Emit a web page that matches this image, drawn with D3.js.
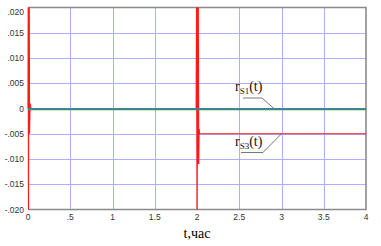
<!DOCTYPE html>
<html>
<head>
<meta charset="utf-8">
<script src="https://cdn.jsdelivr.net/npm/d3@7"></script>
<style>
  body { margin: 0; background: #fff; }
  svg { display: block; }
</style>
</head>
<body>
<script>
// Tick values and labels
const xTicks = [0, 0.5, 1, 1.5, 2, 2.5, 3, 3.5, 4];
const xTickLabels = ["0", ".5", "1", "1.5", "2", "2.5", "3", "3.5", "4"];
const yTicks = [0.02, 0.015, 0.01, 0.005, 0, -0.005, -0.01, -0.015, -0.02];
const yTickLabels = [".020", ".015", ".010", ".005", "0", "-.005", "-.010", "-.015", "-.020"];

// Series
const zeroT = [0, 4];
const zeroV = [0, 0];
const rS1T = [0, 4];
const rS1V = [-0.0002, -0.0002];
const rS3T = [0, 0.003, 0.006, 0.009, 0.012, 0.015, 0.018, 0.024, 0.035,
              1.99, 1.995, 2.0, 2.005, 2.01, 2.015, 2.02, 2.025, 2.03, 4];
const rS3V = [0, 0.0215, -0.0205, 0.021, -0.005, 0.0205, -0.005, 0.001, 0,
              0, 0.021, -0.021, 0.021, -0.011, 0.021, -0.011, -0.004, -0.005, -0.005];

const width = 381, height = 246;
const x = d3.scaleLinear().domain([0, 4]).range([28, 366]);
const y = d3.scaleLinear().domain([-0.02, 0.02]).range([209.5, 7.5]);

const svg = d3.select("body").append("svg")
    .attr("width", width)
    .attr("height", height);

svg.append("defs").append("clipPath").attr("id", "plot")
  .append("rect")
    .attr("x", x(0) - 2).attr("y", y(0.02))
    .attr("width", x(4) - x(0) + 2).attr("height", y(-0.02) - y(0.02));

// Grid
const grid = svg.append("g").attr("stroke", "#aab0ff").attr("stroke-width", 1);
grid.selectAll("line.v").data(xTicks.slice(1, -1)).join("line")
    .attr("x1", d => Math.round(x(d)) + 0.5).attr("x2", d => Math.round(x(d)) + 0.5)
    .attr("y1", y(0.02)).attr("y2", y(-0.02));
grid.selectAll("line.h").data(yTicks.slice(1, -1)).join("line")
    .attr("x1", x(0)).attr("x2", x(4))
    .attr("y1", d => Math.round(y(d)) + 0.5).attr("y2", d => Math.round(y(d)) + 0.5);

// Frame
svg.append("path")
    .attr("d", `M${x(0)},${y(0.02)}H${x(4)}V${y(-0.02)}H${x(0)}`)
    .attr("fill", "none").attr("stroke", "#8a8a8a").attr("stroke-width", 1.6);

const line = d3.line().x(d => x(d[0])).y(d => y(d[1]));
const plot = svg.append("g").attr("clip-path", "url(#plot)").attr("fill", "none");

plot.append("path")
    .attr("d", line(d3.zip(rS3T, rS3V)))
    .attr("stroke", "#ff1a1a").attr("stroke-width", 1.2);
plot.append("path")
    .attr("d", line(d3.zip(zeroT, zeroV)))
    .attr("stroke", "#6060ff").attr("stroke-width", 1);
plot.append("path")
    .attr("d", line(d3.zip(rS1T, rS1V)))
    .attr("stroke", "#2e9a46").attr("stroke-width", 1.3);

// Tick labels
const tickFont = "Arial, 'Liberation Sans', sans-serif";
svg.append("g").selectAll("text").data(yTicks).join("text")
    .attr("x", 24)
    .attr("y", (d, i) => y(d) + (i === 0 ? 7 : 3))
    .attr("text-anchor", "end")
    .attr("font-family", tickFont).attr("font-size", 8.5).attr("fill", "#333")
    .text((d, i) => yTickLabels[i]);
svg.append("g").selectAll("text").data(xTicks).join("text")
    .attr("x", d => x(d))
    .attr("y", 220)
    .attr("text-anchor", "middle")
    .attr("font-family", tickFont).attr("font-size", 8.5).attr("fill", "#333")
    .text((d, i) => xTickLabels[i]);

svg.append("text")
    .attr("x", x(2)).attr("y", 238)
    .attr("text-anchor", "middle")
    .attr("font-family", "'Liberation Serif', 'DejaVu Serif', serif")
    .attr("font-size", 14)
    .text("t,час");

// Curve labels with leader lines
function label(name, tx, ty, ux0, ux1, uy, px, py) {
  const g = svg.append("g");
  const t = g.append("text")
      .attr("x", tx).attr("y", ty)
      .attr("font-family", "'Liberation Serif', 'DejaVu Serif', serif")
      .attr("font-size", 14).attr("fill", "#111");
  t.append("tspan").text("r");
  t.append("tspan").attr("font-size", 9).attr("dy", 3).text(name);
  t.append("tspan").attr("dy", -3).text("(t)");
  g.append("path")
      .attr("d", `M${ux0},${uy}H${ux1}L${px},${py}`)
      .attr("fill", "none").attr("stroke", "#555").attr("stroke-width", 0.8);
}
label("S1", 235, 91, 243, 262, 98, x(2.91), y(0));
label("S3", 235, 146, 241, 263, 152.5, x(3.0), y(-0.005));
</script>
</body>
</html>
